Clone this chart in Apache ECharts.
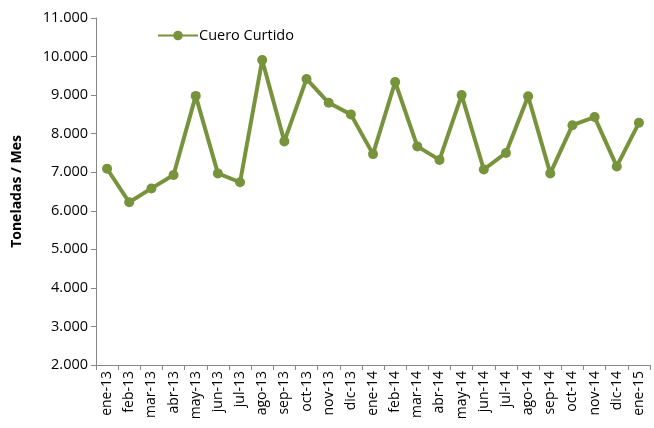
<!DOCTYPE html>
<html>
<head>
<meta charset="utf-8">
<script src="https://cdn.jsdelivr.net/npm/echarts@6/dist/echarts.min.js"></script>
<style>
  html, body { margin: 0; padding: 0; background: #fff; }
  #chart { width: 654px; height: 428px; }
</style>
</head>
<body>
<div id="chart"></div>
<script>
const months = ['ene-13', 'feb-13', 'mar-13', 'abr-13', 'may-13', 'jun-13', 'jul-13', 'ago-13', 'sep-13', 'oct-13', 'nov-13', 'dic-13',
  'ene-14', 'feb-14', 'mar-14', 'abr-14', 'may-14', 'jun-14', 'jul-14', 'ago-14', 'sep-14', 'oct-14', 'nov-14', 'dic-14', 'ene-15']
const cueroCurtido = [7090, 6220, 6580, 6930, 8980, 6970, 6740, 9910, 7800, 9420, 8800, 8500,
  7470, 9340, 7670, 7320, 9000, 7070, 7500, 8970, 6970, 8220, 8430, 7150, 8280]

const green = '#77933C'
const axisGray = '#868686'
const font = '"Open Sans", "Noto Sans", sans-serif'

const chart = echarts.init(document.getElementById('chart'))
chart.setOption({
  animation: false,
  legend: {
    data: ['Cuero Curtido'],
    left: 152,
    top: 23,
    itemWidth: 40,
    itemHeight: 12,
    itemGap: 2,
    textStyle: { color: '#000', fontSize: 14.5, fontFamily: font, padding: [0, 0, 0, -4] },
  },
  grid: {
    left: 96,
    right: 4,
    top: 18,
    bottom: 63,
  },
  xAxis: {
    type: 'category',
    data: months,
    boundaryGap: true,
    axisLine: { lineStyle: { color: axisGray } },
    axisTick: { show: true, length: 5, lineStyle: { color: axisGray } },
    axisLabel: {
      interval: 0,
      rotate: 90,
      color: '#000',
      fontSize: 14,
      fontFamily: font,
      margin: 6,
    },
  },
  yAxis: {
    type: 'value',
    min: 2000,
    max: 11000,
    interval: 1000,
    name: 'Toneladas / Mes',
    nameLocation: 'middle',
    nameGap: 72,
    nameTextStyle: { color: '#000', fontSize: 14, fontWeight: 'bold', fontFamily: font },
    axisLine: { show: true, lineStyle: { color: axisGray } },
    axisTick: { show: true, length: 5, lineStyle: { color: axisGray } },
    splitLine: { show: false },
    axisLabel: {
      color: '#000',
      fontSize: 14.5,
      fontFamily: font,
      margin: 8,
      formatter: v => (v / 1000).toFixed(3),
    },
  },
  series: [
    {
      name: 'Cuero Curtido',
      type: 'line',
      data: cueroCurtido,
      symbol: 'circle',
      symbolSize: 10,
      lineStyle: { color: green, width: 4 },
      itemStyle: { color: green },
    },
  ],
})
</script>
</body>
</html>
